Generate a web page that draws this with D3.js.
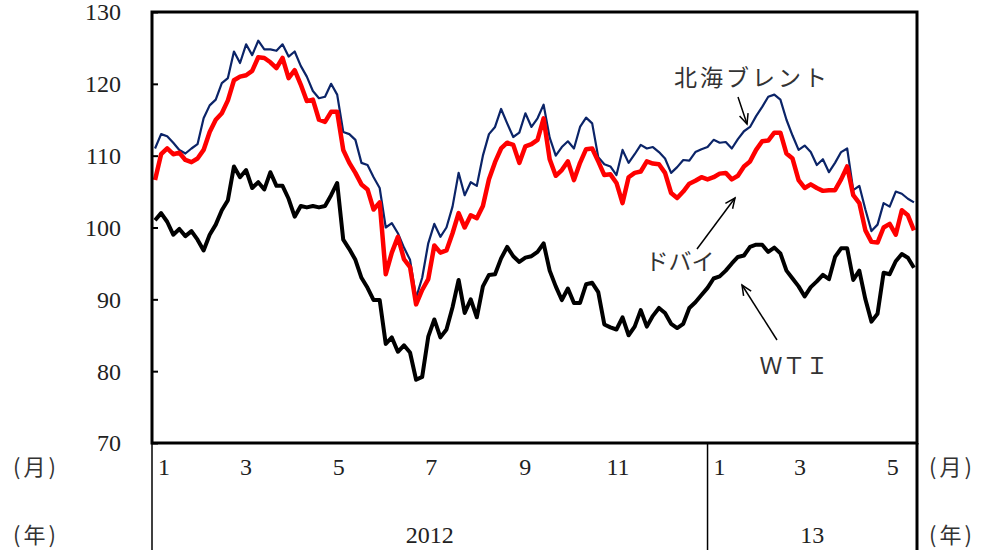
<!DOCTYPE html>
<html>
<head>
<meta charset="utf-8">
<script src="https://cdn.jsdelivr.net/npm/d3@7"></script>
<style>
  html, body { margin: 0; padding: 0; background: #fff; }
  svg { display: block; }
  .num { font-family: "Liberation Serif", "DejaVu Serif", serif; fill: #222; }
  .jp { font-family: "Noto Sans CJK JP", sans-serif; fill: #333; }
</style>
</head>
<body>
<svg id="chart" width="994" height="550"></svg>
<script>
// Daily crude prices (USD/bbl), sampled every 4 days from 2012-01-03
const startDate = "2012-01-03";
const stepDays = 4;

const brent = [
  111, 113, 112.7, 111.8, 110.8, 110.3, 111, 111.6, 115.2, 117,
  117.8, 120.1, 120.8, 124.5, 122.9, 125.5, 124, 126, 124.8, 124.8,
  124.6, 125.5, 123.8, 124.5, 122.5, 121, 119, 118, 118.2, 120,
  118.5, 113.3, 113, 112.2, 109, 108.7, 107, 105.5, 100, 100.6,
  99.2, 97.2, 95.5, 90.2, 93, 97.8, 100.5, 98.7, 100, 102.9,
  107.6, 104.5, 106.3, 105.8, 110, 113, 114, 116.5, 114.5, 112.6,
  113.2, 115.9, 114, 115.2, 117.1, 112.5, 110, 111.2, 112, 111,
  114, 115.3, 114.5, 109.8, 108.8, 108.5, 107.3, 110.8, 109, 110.2,
  111.5, 111, 111.2, 110.5, 109.6, 107.6, 108.4, 109.4, 109.3, 110.5,
  110.9, 111.2, 112.2, 111.8, 111.9, 111, 112.3, 113.4, 114, 115.5,
  116.8, 118.2, 118.5, 117.8, 115, 112.8, 110.8, 111.4, 110.5, 108.7,
  109.5, 107.7, 109, 110.5, 111, 105.2, 105.8, 102.5, 99.5, 100.4,
  103.4, 102.9, 105, 104.7, 104, 103.5
];

const dubai = [
  106.6, 110.2, 111, 110.2, 110.4, 109.4, 109.1, 109.6, 110.8, 113.3,
  115, 115.9, 117.7, 120.5, 121, 121.2, 121.8, 123.7, 123.6, 123,
  122.2, 123.6, 120.8, 121.9, 119.9, 117.6, 117.8, 115, 114.7, 116.1,
  116.1, 110.8, 109, 107.6, 106, 105.3, 102.5, 103.5, 93.5, 96.5,
  98.7, 95.6, 94.5, 89.3, 91.3, 92.8, 97.5, 96.5, 96.8, 99.2,
  102, 100, 101.7, 101.3, 103, 106.7, 109.1, 111, 111.8, 111.5,
  109, 111.3, 111.6, 112.2, 115.2, 109.5, 107.2, 108, 109.2, 106.6,
  109, 110.9, 111, 109.2, 107.3, 107.4, 106.2, 103.4, 107, 107.6,
  107.8, 109.2, 108.9, 108.8, 107.6, 104.8, 104.1, 105, 106.1, 106.5,
  107, 106.7, 107, 107.5, 107.6, 106.7, 107.2, 108.5, 109.2, 110.8,
  112, 112.1, 113.2, 113.2, 110.3, 109.6, 106.6, 105.5, 106, 105.5,
  105.1, 105.2, 105.2, 106.7, 108.5, 104.5, 103.4, 99.6, 98, 97.9,
  100, 100.5, 99, 102.4, 101.7, 99.6
];

const wti = [
  101, 102, 100.8, 99, 99.8, 98.8, 99.5, 98.3, 96.8, 99,
  100.4, 102.4, 103.8, 108.5, 107, 108, 105.5, 106.3, 105.3, 107.7,
  105.8, 105.8, 104, 101.5, 103, 102.8, 103, 102.8, 103, 104.5,
  106.2, 98.3, 97, 95.5, 93, 91.6, 89.9, 89.9, 83.8, 84.7,
  82.7, 83.6, 82.6, 78.8, 79.2, 84.8, 87.2, 84.7, 85.8, 88.9,
  92.7, 88.1, 90, 87.5, 91.8, 93.4, 93.5, 95.7, 97.3, 96,
  95.2, 95.8, 96, 96.6, 97.8, 94, 91.8, 89.9, 91.5, 89.5,
  89.5, 92.1, 92.3, 91, 86.5, 86.1, 85.8, 87.5, 85, 86.2,
  88.5, 86.2, 87.7, 88.8, 88.1, 86.6, 86, 86.6, 88.8, 89.6,
  90.6, 91.6, 92.9, 93.2, 94, 95, 95.9, 96.1, 97.3, 97.6,
  97.6, 96.6, 97.2, 96.4, 94, 92.9, 91.8, 90.4, 91.7, 92.5,
  93.4, 92.8, 95.9, 97.1, 97.1, 92.7, 94, 90, 86.9, 88,
  93.7, 93.5, 95.3, 96.3, 95.8, 94.4
];

const yTicks = [70, 80, 90, 100, 110, 120, 130];
const monthTicks = ["2012-01-01", "2012-03-01", "2012-05-01", "2012-07-01", "2012-09-01", "2012-11-01",
                    "2013-01-01", "2013-03-01", "2013-05-01"];
const yearSpans = [
  { label: "2012", from: "2012-01-01", to: "2013-01-01" },
  { label: "13",   from: "2013-01-01", to: "2013-05-19" }
];
const seriesNames = { brent: "北海ブレント", dubai: "ドバイ", wti: "ＷＴＩ" };

(function draw() {
  const parse = d3.utcParse("%Y-%m-%d");
  const t0 = parse(startDate);
  const dates = brent.map((_, i) => d3.utcDay.offset(t0, i * stepDays));

  const L = 152, R = 917, T = 12, B = 443;
  const svg = d3.select("#chart");

  const x = d3.scaleUtc()
    .domain([parse("2012-01-01"), parse("2013-05-19")])
    .range([L, R]);
  const y = d3.scaleLinear().domain([70, 130]).range([B, T]);

  // series lines
  const line = d3.line()
    .x((d, i) => x(dates[i]))
    .y(d => y(d));

  const g = svg.append("g");
  g.append("path").datum(brent)
    .attr("d", line).attr("fill", "none")
    .attr("stroke", "#0b2468").attr("stroke-width", 2.2).attr("stroke-linejoin", "round");
  g.append("path").datum(dubai)
    .attr("d", line).attr("fill", "none")
    .attr("stroke", "#ff0000").attr("stroke-width", 4.5).attr("stroke-linejoin", "round");
  g.append("path").datum(wti)
    .attr("d", line).attr("fill", "none")
    .attr("stroke", "#000").attr("stroke-width", 4).attr("stroke-linejoin", "round");

  // y axis: inward ticks on the left edge
  const yAxis = d3.axisLeft(y).tickValues(yTicks).tickSize(-6).tickPadding(31);
  const ya = svg.append("g").attr("transform", `translate(${L},0)`).call(yAxis);
  ya.select(".domain").remove();
  ya.selectAll(".tick line").attr("stroke", "#000").attr("stroke-width", 2);
  ya.selectAll(".tick text")
    .attr("class", "num")
    .attr("font-size", 24)
    .attr("dy", "0.33em");

  // plot frame
  svg.append("rect")
    .attr("x", L).attr("y", T)
    .attr("width", R - L).attr("height", B - T)
    .attr("fill", "none").attr("stroke", "#000").attr("stroke-width", 3);

  // category area below the frame
  const sepDates = [parse("2012-01-01"), parse("2013-01-01")];
  svg.selectAll(".sep").data(sepDates).enter().append("line")
    .attr("x1", d => x(d)).attr("x2", d => x(d))
    .attr("y1", B).attr("y2", 550)
    .attr("stroke", "#000").attr("stroke-width", 1.5);
  svg.append("line")
    .attr("x1", R).attr("x2", R)
    .attr("y1", B).attr("y2", 550)
    .attr("stroke", "#000").attr("stroke-width", 3);

  svg.selectAll(".mon").data(monthTicks).enter().append("text")
    .attr("class", "num")
    .attr("x", d => {
      const dt = parse(d);
      return x(dt) + (dt.getUTCMonth() === 0 ? 12 : 3);
    })
    .attr("y", 467)
    .attr("dy", "0.33em")
    .attr("text-anchor", "middle")
    .attr("font-size", 24)
    .text(d => String(parse(d).getUTCMonth() + 1));

  svg.selectAll(".yr").data(yearSpans).enter().append("text")
    .attr("class", "num")
    .attr("x", d => (x(parse(d.from)) + x(parse(d.to))) / 2)
    .attr("y", 535)
    .attr("dy", "0.33em")
    .attr("text-anchor", "middle")
    .attr("font-size", 24)
    .text(d => d.label);

  const unitLabels = [
    { t: "(月)", x: 36, y: 467 }, { t: "(年)", x: 36, y: 535 },
    { t: "(月)", x: 952, y: 467 }, { t: "(年)", x: 952, y: 535 }
  ];
  svg.selectAll(".unit").data(unitLabels).enter().append("text")
    .attr("class", "jp")
    .attr("x", d => d.x).attr("y", d => d.y)
    .attr("dy", "0.35em").attr("text-anchor", "middle")
    .attr("font-size", 22)
    .attr("letter-spacing", 3)
    .text(d => d.t);

  // series labels with pointer arrows
  const labels = [
    { t: seriesNames.brent, x: 752, y: 78, ls: 3 },
    { t: seriesNames.dubai, x: 680, y: 262, ls: 0 },
    { t: seriesNames.wti,   x: 794, y: 366, ls: 0 }
  ];
  svg.selectAll(".lab").data(labels).enter().append("text")
    .attr("class", "jp")
    .attr("x", d => d.x).attr("y", d => d.y)
    .attr("dy", "0.35em").attr("text-anchor", "middle")
    .attr("font-size", 23)
    .attr("letter-spacing", d => d.ls)
    .text(d => d.t);

  const arrows = [
    { x1: 738, y1: 97,  x2: 747, y2: 124 },
    { x1: 697, y1: 249, x2: 735, y2: 198 },
    { x1: 777, y1: 340, x2: 742, y2: 285 }
  ];
  const ag = svg.append("g").attr("stroke", "#000").attr("stroke-width", 1.5).attr("fill", "none");
  arrows.forEach(a => {
    ag.append("line").attr("x1", a.x1).attr("y1", a.y1).attr("x2", a.x2).attr("y2", a.y2);
    const ang = Math.atan2(a.y2 - a.y1, a.x2 - a.x1);
    const len = 11, spread = 0.42;
    const p1 = [a.x2 - len * Math.cos(ang - spread), a.y2 - len * Math.sin(ang - spread)];
    const p2 = [a.x2 - len * Math.cos(ang + spread), a.y2 - len * Math.sin(ang + spread)];
    ag.append("path").attr("d", `M${p1[0]},${p1[1]}L${a.x2},${a.y2}L${p2[0]},${p2[1]}`);
  });
})();
</script>
</body>
</html>
